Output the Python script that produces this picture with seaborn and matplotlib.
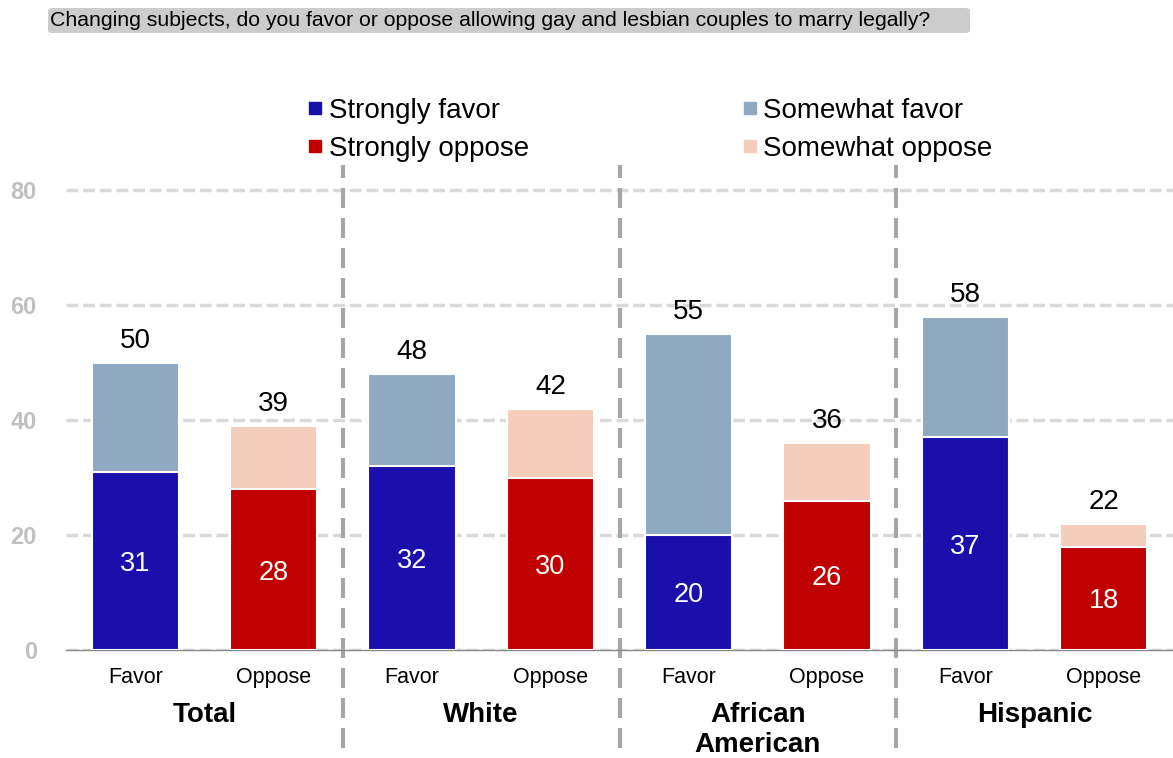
import matplotlib
matplotlib.use('Agg')
import matplotlib.pyplot as plt
import seaborn as sns
import pandas as pd
from matplotlib.lines import Line2D
from matplotlib.patches import FancyBboxPatch

# ---- data ----
groups = ['Total', 'White', 'African\nAmerican', 'Hispanic']
sides = ['Favor', 'Oppose']
favor_strong = [31, 32, 20, 37]
favor_total = [50, 48, 55, 58]
oppose_strong = [28, 30, 26, 18]
oppose_total = [39, 42, 36, 22]
yticks = [0, 20, 40, 60, 80]
title = 'Changing subjects, do you favor or oppose allowing gay and lesbian couples to marry legally?'
legend_labels = ['Strongly favor', 'Strongly oppose', 'Somewhat favor', 'Somewhat oppose']

c_sf, c_wf = '#1A0FAB', '#8FA9C0'
c_so, c_wo = '#C00000', '#F4CDBD'

rows = []
for g, fs, ft, os_, ot in zip(groups, favor_strong, favor_total, oppose_strong, oppose_total):
    rows.append(dict(key=g + '|Favor', group=g, side='Favor', strong=fs, total=ft))
    rows.append(dict(key=g + '|Oppose', group=g, side='Oppose', strong=os_, total=ot))
df = pd.DataFrame(rows)
order = list(df['key'])

sns.set_theme(style='white')
plt.rcParams['font.family'] = ['Liberation Sans', 'DejaVu Sans']
plt.rcParams['text.color'] = 'black'
plt.rcParams['xtick.color'] = 'black'
plt.rcParams['ytick.color'] = 'black'

W, H = 1173, 758
fig = plt.figure(figsize=(W / 100, H / 100), dpi=100)
ppu = 5.75
ax = fig.add_axes([66 / W, 108 / H, 1107 / W, 95 * ppu / H])

ax.set_axisbelow(True)
ax.yaxis.grid(True, color='#d9d9d9', linewidth=2.5, linestyle=(0, (3.4, 1.4)))

sns.barplot(data=df, x='key', y='total', hue='side', order=order,
            palette={'Favor': c_wf, 'Oppose': c_wo}, dodge=False, width=0.63,
            saturation=1, edgecolor='white', linewidth=1.5, legend=False, ax=ax, zorder=2)
sns.barplot(data=df, x='key', y='strong', hue='side', order=order,
            palette={'Favor': c_sf, 'Oppose': c_so}, dodge=False, width=0.63,
            saturation=1, edgecolor='white', linewidth=1.5, legend=False, ax=ax, zorder=3)

ax.set_xlim(-0.5, 7.45)
ax.set_ylim(0, 95)
ax.set_xlabel('')
ax.set_ylabel('')

ax.set_yticks(yticks)
ax.set_yticklabels([str(t) for t in yticks], color='#c0c0c0', fontsize=17, fontweight='bold')
ax.tick_params(axis='y', length=0, pad=21)

ax.set_xticks(range(len(order)))
ax.set_xticklabels(list(df['side']), fontsize=15.5, color='black')
ax.tick_params(axis='x', which='major', length=0, pad=12)
ax.set_xticks([i - 0.5 for i in range(len(order) + 1)], minor=True)
ax.tick_params(axis='x', which='minor', length=7, width=1, color='#888888', direction='out')

for s in ['top', 'right', 'left']:
    ax.spines[s].set_visible(False)
ax.spines['bottom'].set_color('#888888')
ax.spines['bottom'].set_linewidth(1)

# separators
for xs in [1.5, 3.5, 5.5]:
    ax.axvline(xs, ymin=-0.18, ymax=0.888, color='#a6a6a6', linewidth=3,
               linestyle=(0, (4.8, 2.4)), clip_on=False, zorder=1)

# value labels
for i, r in df.iterrows():
    ax.text(i, r['total'] + 2.6, str(r['total']), ha='center', va='baseline',
            fontsize=20, color='black', zorder=5)
    ax.text(i, r['strong'] / 2, str(r['strong']), ha='center', va='center_baseline',
            fontsize=19.5, color='white', zorder=5)

# group labels
for gi, g in enumerate(groups):
    ax.text(2 * gi + 0.5, -9.0, g, ha='center', va='top', fontsize=20,
            fontweight='bold', color='black', clip_on=False, linespacing=1.2)

# legend
handles = [Line2D([], [], marker='s', ls='none', markersize=9, color=c, label=l)
           for c, l in zip([c_sf, c_so, c_wf, c_wo], legend_labels)]
leg = fig.legend(handles=handles, loc='upper left', bbox_to_anchor=(305 / W, 1 - 98 / H),
                 bbox_transform=fig.transFigure, ncol=2, frameon=False, fontsize=20,
                 handlelength=0.7, handletextpad=0.15, columnspacing=7.6, labelspacing=0.42,
                 borderpad=0, borderaxespad=0)
for t in leg.get_texts():
    t.set_color('black')

# title box
fig.patches.append(FancyBboxPatch((48 / W, 1 - 33 / H), 922 / W, 25 / H,
                                  boxstyle='round,pad=0,rounding_size=0.004',
                                  transform=fig.transFigure, fc='#cccccc', ec='none'))
fig.text(50 / W, 1 - 20.5 / H, title, ha='left', va='center', fontsize=15.3, color='black')

fig.savefig('out.png', dpi=100)
